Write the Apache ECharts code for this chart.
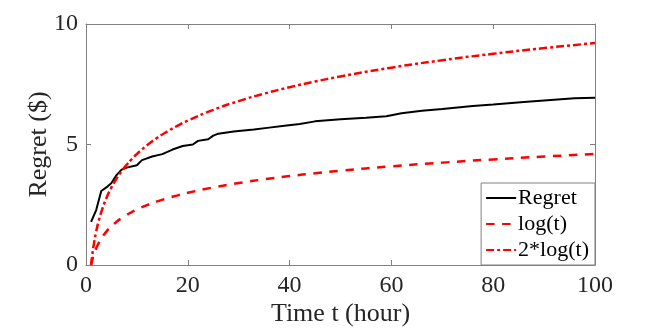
<!DOCTYPE html>
<html>
<head>
<meta charset="utf-8">
<script src="https://cdn.jsdelivr.net/npm/echarts@6/dist/echarts.min.js"></script>
<style>
  html, body { margin: 0; padding: 0; background: #fff; }
  #chart { width: 658px; height: 332px; }
</style>
</head>
<body>
<div id="chart"></div>
<script>
// values
const regretT = [1, 2, 3, 4, 5, 6, 7, 8, 10, 11, 13, 15, 17, 19, 21, 22, 24, 25, 26, 29, 33, 36, 39, 42, 45, 50, 55, 59, 62, 66, 70, 76, 80, 86, 92, 96, 100];
const regretV = [1.79, 2.28, 3.07, 3.22, 3.40, 3.73, 3.96, 4.04, 4.14, 4.35, 4.50, 4.60, 4.79, 4.94, 5.00, 5.15, 5.22, 5.37, 5.45, 5.54, 5.62, 5.70, 5.78, 5.85, 5.96, 6.05, 6.11, 6.17, 6.30, 6.40, 6.47, 6.60, 6.66, 6.76, 6.86, 6.92, 6.94];

const logT = [1, 1.25, 1.5, 2, 2.5, 3, 4, 5, 6, 7, 8, 9, 10, 12, 14, 16, 18, 20, 25, 30, 35, 40, 45, 50, 60, 70, 80, 90, 100];
const logV = [0, 0.223, 0.405, 0.693, 0.916, 1.099, 1.386, 1.609, 1.792, 1.946, 2.079, 2.197, 2.303, 2.485, 2.639, 2.773, 2.890, 2.996, 3.219, 3.401, 3.555, 3.689, 3.807, 3.912, 4.094, 4.248, 4.382, 4.500, 4.605];
const log2V = [0, 0.446, 0.811, 1.386, 1.833, 2.197, 2.773, 3.219, 3.584, 3.892, 4.159, 4.394, 4.605, 4.970, 5.278, 5.545, 5.781, 5.991, 6.438, 6.802, 7.111, 7.378, 7.613, 7.824, 8.189, 8.497, 8.764, 9.000, 9.210];

const seriesNames = ['Regret', 'log(t)', '2*log(t)'];

const font = 'Liberation Serif';
const boxColor = '#808080';
const textColor = '#262626';

function pairs(xs, ys) {
  return xs.map((x, i) => [x, ys[i]]);
}

// 四边框的刻度线都朝里
function boxAxis(extra) {
  return Object.assign({
    type: 'value',
    axisLine: { show: true, onZero: false, lineStyle: { color: boxColor, width: 1 } },
    axisTick: { show: true, inside: true, length: 5, lineStyle: { color: boxColor } },
    splitLine: { show: false }
  }, extra);
}

let chart = echarts.init(document.getElementById('chart'), null, { renderer: 'canvas' });

let option = {
  animation: false,
  backgroundColor: '#fff',
  grid: {
    left: 86, right: 63, top: 24, bottom: 67,
    containLabel: false,
    outerBoundsMode: 'none'
  },
  legend: {
    data: seriesNames,
    orient: 'vertical',
    right: 63,
    bottom: 67,
    itemWidth: 30,
    itemHeight: 14,
    itemGap: 4,
    padding: [4, 6, 4, 4],
    borderColor: boxColor,
    borderWidth: 1,
    backgroundColor: '#fff',
    itemStyle: { opacity: 0 },
    textStyle: { fontFamily: font, fontSize: 22, color: '#000', padding: [0, 0, 0, -3] }
  },
  xAxis: [
    boxAxis({
      position: 'bottom',
      min: 0, max: 100, interval: 20,
      name: 'Time t (hour)',
      nameLocation: 'middle',
      nameGap: 36,
      nameMoveOverlap: false,
      nameTextStyle: { fontFamily: font, fontSize: 26, color: textColor },
      axisLabel: { fontFamily: font, fontSize: 24, color: textColor, margin: 9 }
    }),
    boxAxis({
      position: 'top',
      min: 0, max: 100, interval: 20,
      axisLabel: { show: false }
    })
  ],
  yAxis: [
    boxAxis({
      position: 'left',
      min: 0, max: 10, interval: 5,
      name: 'Regret ($)',
      nameLocation: 'middle',
      nameGap: 34,
      nameMoveOverlap: false,
      nameTextStyle: { fontFamily: font, fontSize: 26, color: textColor },
      axisLabel: { fontFamily: font, fontSize: 24, color: textColor, margin: 8 }
    }),
    boxAxis({
      position: 'right',
      min: 0, max: 10, interval: 5,
      axisLabel: { show: false }
    })
  ],
  series: [{
    name: seriesNames[0],
    type: 'line',
    data: pairs(regretT, regretV),
    showSymbol: false,
    symbol: 'none',
    color: '#000',
    lineStyle: { color: '#000', width: 2 }
  }, {
    name: seriesNames[1],
    type: 'line',
    data: pairs(logT, logV),
    showSymbol: false,
    symbol: 'none',
    smooth: true,
    color: '#ff0000',
    lineStyle: { color: '#ff0000', width: 2.5, type: [8.5, 7.5] }
  }, {
    name: seriesNames[2],
    type: 'line',
    data: pairs(logT, log2V),
    showSymbol: false,
    symbol: 'none',
    smooth: true,
    color: '#ff0000',
    lineStyle: { color: '#ff0000', width: 2.5, type: [8, 3, 3, 3] }
  }, {
    // 空系列，让顶部和右侧的坐标轴也画出来
    name: 'box',
    type: 'line',
    xAxisIndex: 1,
    yAxisIndex: 1,
    data: [],
    symbol: 'none'
  }]
};

chart.setOption(option);
</script>
</body>
</html>
